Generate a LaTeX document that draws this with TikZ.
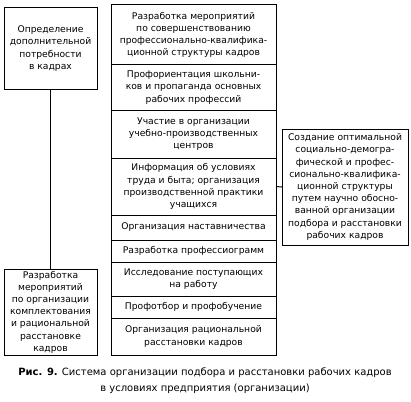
\documentclass[tikz,border=0pt]{standalone}
\usepackage{fontspec}
\setmainfont{DejaVu Sans}
\begin{document}
\begin{tikzpicture}[x=1pt,y=-1pt,
  box/.style={draw, line width=1pt, inner sep=0pt, outer sep=0pt, align=center,
    font=\fontsize{9.2}{12.2}\selectfont},
  col/.style={box, minimum width=165},
  conn/.style={line width=1pt}]
\useasboundingbox (0,0) rectangle (411,401);
% left boxes
\node[box, minimum width=93, minimum height=81] (lt) at (50.5,48.5)
  {Определение\\дополнительной\\потребности\\в кадрах};
\node[box, minimum width=93, minimum height=86] (lb) at (50.5,312)
  {Разработка\\мероприятий\\по организации\\комплектования\\и рациональной\\расстановке\\кадров};
% central column
\node[col, minimum height=60] (c1) at (193.5,35)
  {Разработка мероприятий\\по совершенствованию\\профессионально-квалифика-\\ционной структуры кадров};
\node[col, minimum height=45] (c2) at (193.5,87.5)
  {Профориентация школьни-\\ков и пропаганда основных\\рабочих профессий};
\node[col, minimum height=48] (c3) at (193.5,134)
  {Участие в организации\\учебно-производственных\\центров};
\node[col, minimum height=57] (c4) at (193.5,186.5)
  {Информация об условиях\\труда и быта; организация\\производственной практики\\учащихся};
\node[col, minimum height=25] (c5) at (193.5,227.5)
  {Организация наставничества};
\node[col, minimum height=22] (c6) at (193.5,251)
  {Разработка профессиограмм};
\node[col, minimum height=34] (c7) at (193.5,279)
  {Исследование поступающих\\на работу};
\node[col, minimum height=22] (c8) at (193.5,307)
  {Профотбор и профобучение};
\node[col, minimum height=37] (c9) at (193.5,336.5)
  {Организация рациональной\\расстановки кадров};
% right box
\node[box, minimum width=126, minimum height=116] (rb) at (345,187)
  {Создание оптимальной\\социально-демогра-\\фической и профес-\\сионально-квалифика-\\ционной структуры\\путем научно обосно-\\ванной организации\\подбора и расстановки\\рабочих кадров};
% connectors
\draw[conn] (lt.south) -- (lb.north);
\draw[conn] (c4.east) -- (rb.west);
% caption
\node[align=center, font=\fontsize{10}{16}\selectfont] (cap) at (205,381)
  {\textbf{Рис. 9.} Система организации подбора и расстановки рабочих кадров\\в условиях предприятия (организации)};
\end{tikzpicture}
\end{document}
